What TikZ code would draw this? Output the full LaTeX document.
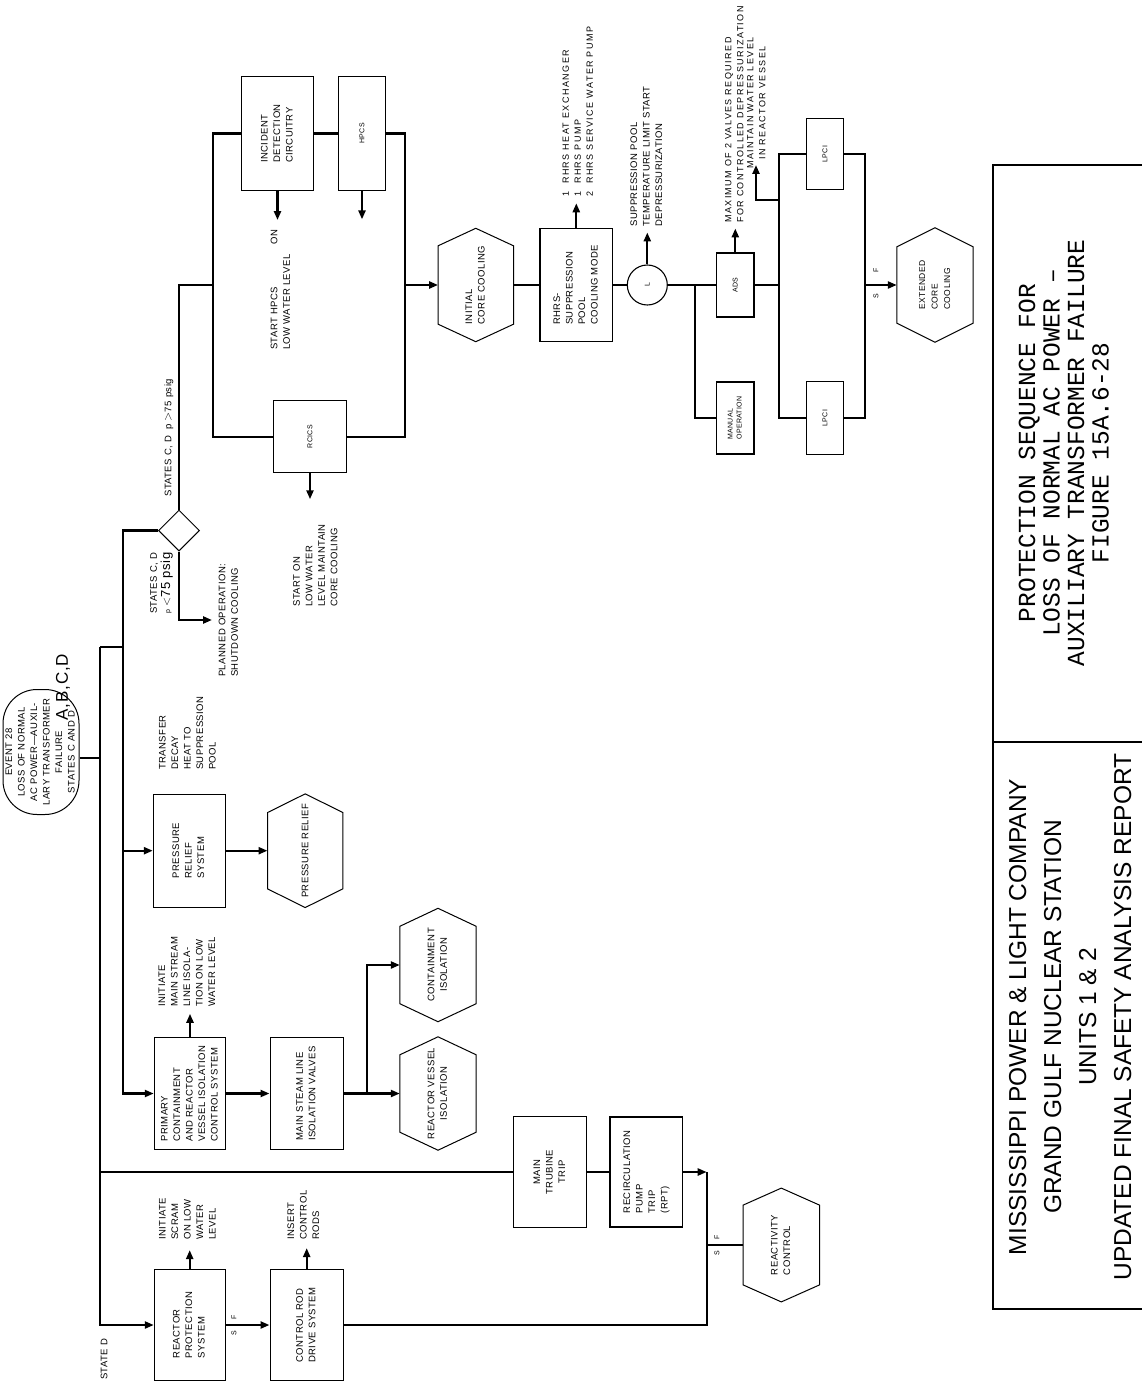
\documentclass[tikz,border=0pt]{standalone}
\usepackage{fontspec}
\setmainfont{Liberation Sans}[LetterSpace=5]
\newfontfamily\monofam{Liberation Mono}
\newfontfamily\titlefam{Liberation Sans}
\newfontfamily\widefam{Liberation Sans}[LetterSpace=16]
\usepackage{graphicx}
\usetikzlibrary{arrows.meta,shapes.geometric}
\newcommand\RotC[1]{\rotatebox{90}{\begin{tabular}{@{}c@{}}#1\end{tabular}}}
\newcommand\RotL[1]{\rotatebox{90}{\begin{tabular}{@{}l@{}}#1\end{tabular}}}
\newcommand\hexo[2]{\draw[hexline] (#1.north) -- ([yshift=-#2pt]#1.north west) -- ([yshift=#2pt]#1.south west) -- (#1.south) -- ([yshift=#2pt]#1.south east) -- ([yshift=-#2pt]#1.north east) -- cycle;}
\tikzset{
 lbl/.style={font=\fontsize{9.5}{12.5}\selectfont, inner sep=0pt},
 sm/.style={font=\fontsize{7}{9}\selectfont, inner sep=0pt},
 widelbl/.style={font=\widefam\fontsize{9}{12}\selectfont, inner sep=0pt},
 box/.style={draw, line width=1.1pt, inner sep=0pt, lbl},
 hexn/.style={inner sep=0pt, lbl},
 hexline/.style={line width=1pt},
 flow/.style={line width=2.3pt},
 arr/.style={line width=2.3pt, -{Triangle[length=9pt,width=7pt]}},
}
\begin{document}
\begin{tikzpicture}[x=1pt,y=-1pt]
\fill[white] (0,0) rectangle (1142,1383);
\useasboundingbox (0,0) rectangle (1142,1383);

% ---------- event ----------
\node[box, rounded corners=34pt, line width=1pt, minimum width=76pt, minimum height=125pt] (ev) at (41,752)
 {\RotC{EVENT 28\\LOSS OF NORMAL\\AC POWER—AUXIL-\\LARY TRANSFORMER\\FAILURE\\STATES C AND D}};
\node[inner sep=0pt, font=\fontsize{17}{17}\selectfont] (abcd) at (63,687) {\rotatebox{90}{A,B,C,D}};

\coordinate (a1) at (100,647);
\coordinate (a2) at (122.7,647);
\coordinate (tA) at (100,758);

% ---------- diamond and HPCS/RCICS loop ----------
\node[draw, diamond, aspect=1, minimum width=41pt, minimum height=41pt, inner sep=0pt, line width=1pt] (dia) at (179,530.5) {};
\coordinate (hj) at (179,285);
\coordinate (jl) at (213,285);
\coordinate (jr) at (405,285);
\coordinate (pl) at (212,620);

\node[box, minimum width=71.6pt, minimum height=114pt] (idc) at (277.5,133.5) {\RotL{INCIDENT\\DETECTION\\CIRCUITRY}};
\node[box, sm, minimum width=47.4pt, minimum height=114.7pt] (hpcs) at (362,133.5) {\rotatebox{90}{HPCS}};
\node[box, sm, minimum width=73.4pt, minimum height=72pt] (rcics) at (310,436.7) {\rotatebox{90}{RCICS}};

\node[hexn, minimum width=75pt, minimum height=113pt] (icc) at (475.8,285) {\RotL{INITIAL\\CORE COOLING}};
\hexo{icc}{17.5}
\node[box, minimum width=72.7pt, minimum height=112.4pt] (rhrs) at (576.3,285) {\RotL{RHRS-\\SUPPRESSION\\POOL\\COOLING MODE}};
\node[draw, circle, line width=1.1pt, minimum size=40pt, inner sep=0pt, sm] (cl) at (647.3,285) {\rotatebox{90}{L}};
\node[box, sm, minimum width=37.3pt, minimum height=64pt] (ads) at (735.3,285) {\rotatebox{90}{ADS}};
\node[box, sm, minimum width=37.3pt, minimum height=72pt] (man) at (735.3,418) {\RotL{MANUAL\\OPERATION}};
\node[box, sm, minimum width=36.6pt, minimum height=71pt] (lpt) at (825,154) {\rotatebox{90}{LPCI}};
\node[box, sm, minimum width=36.6pt, minimum height=73pt] (lpb) at (825,418) {\rotatebox{90}{LPCI}};
\node[hexn, font=\fontsize{8.5}{12.5}\selectfont, minimum width=76pt, minimum height=114pt] (ecc) at (935,285) {\RotL{EXTENDED\\CORE\\COOLING}};
\hexo{ecc}{19}
\coordinate (jm) at (695,285);
\coordinate (jl2) at (779.3,285);
\coordinate (jr2) at (865,285);
\coordinate (jb) at (779.3,200);
\coordinate (tipb) at (756,165);

% ---------- left column ----------
\node[box, minimum width=71.7pt, minimum height=113.3pt] (prs) at (189.2,850.7) {\RotL{PRESSURE\\RELIEF\\SYSTEM}};
\node[hexn, minimum width=75pt, minimum height=113.3pt] (prh) at (305.2,850.7) {\rotatebox{90}{PRESSURE RELIEF}};
\hexo{prh}{18.7}
\node[box, minimum width=71.4pt, minimum height=112.4pt] (pcis) at (190,1093.5) {\RotL{PRIMARY\\CONTAINMENT\\AND REACTOR\\VESSEL ISOLATION\\CONTROL SYSTEM}};
\node[box, minimum width=73.3pt, minimum height=112.7pt] (msiv) at (306.7,1093.5) {\RotL{MAIN STEAM LINE\\ISOLATION VALVES}};
\node[hexn, minimum width=76pt, minimum height=113pt] (ci) at (438,965) {\RotC{CONTAINMENT\\ISOLATION}};
\hexo{ci}{18}
\node[hexn, minimum width=76pt, minimum height=113pt] (rvi) at (438,1093.5) {\RotC{REACTOR VESSEL\\ISOLATION}};
\hexo{rvi}{18}
\coordinate (jv) at (366.7,1093.5);

\node[box, minimum width=73.4pt, minimum height=111.7pt] (mtt) at (550,1172) {\RotC{MAIN\\TRUBINE\\TRIP}};
\node[box, minimum width=72.7pt, minimum height=110pt] (rec) at (646.3,1172) {\RotL{RECIRCULATION\\PUMP\\TRIP\\(RPT)}};
\node[hexn, minimum width=76pt, minimum height=113.4pt] (rac) at (781.3,1245) {\RotL{REACTIVITY\\CONTROL}};
\hexo{rac}{17}
\node[box, minimum width=70.7pt, minimum height=110.7pt] (rps) at (189.7,1325) {\RotL{REACTOR\\PROTECTION\\SYSTEM}};
\node[box, minimum width=73.3pt, minimum height=110.7pt] (crd) at (306.7,1325) {\RotL{CONTROL ROD\\DRIVE SYSTEM}};
\coordinate (jtop) at (706.7,1172);
\coordinate (jx) at (706.7,1245);

% ---------- connectors ----------
\draw[flow] (ev.east |- tA) -- (tA);
\draw[flow] (dia.west) -| (a2) -- (a1);
\draw[arr] (a1) |- (rps.west);
\draw[arr] (a2) |- (pcis.west);
\draw[arr] (a2 |- prs.west) -- (prs.west);
\draw[arr] (prs.east) -- (prh.west);
\draw[flow] (a1 |- mtt.west) -- (mtt.west);
\draw[flow] (dia.north) -- (hj) -- (jl);
\draw[arr] (dia.south) |- (pl);
\draw[flow] (idc.west) -| (jl) |- (rcics.west);
\draw[flow] (idc.east) -- (hpcs.west);
\draw[flow] (hpcs.east) -| (jr) |- (rcics.east);
\draw[arr] (idc.south) -- ++(0,29);
\draw[arr] (hpcs.south) -- ++(0,28);
\draw[arr] (rcics.south) -- ++(0,26);
\draw[arr] (jr) -- (icc.west);
\draw[flow] (icc.east) -- (rhrs.west);
\draw[arr] (rhrs.north) -- ++(0,-25);
\draw[flow] (rhrs.east) -- (cl.west);
\draw[arr] (cl.north) -- ++(0,-32);
\draw[flow] (cl.east) -- (ads.west);
\draw[flow] (jm) |- (man.west);
\draw[arr] (ads.north) -- ++(0,-24);
\draw[flow] (ads.east) -- (jl2);
\draw[flow] (lpt.west) -| (jl2) |- (lpb.west);
\draw[flow] (lpt.east) -| (jr2) |- (lpb.east);
\draw[arr] (jb) -| (tipb);
\draw[arr] (jr2) -- (ecc.west);
\draw[arr] (pcis.north) -- ++(0,-23);
\draw[arr] (pcis.east) -- (msiv.west);
\draw[flow] (msiv.east) -- (jv);
\draw[arr] (jv) -- (rvi.west);
\draw[arr] (jv) |- (ci.west);
\draw[arr] (rps.north) -- ++(0,-19);
\draw[arr] (rps.east) -- (crd.west);
\draw[arr] (crd.north) -- ++(0,-21);
\draw[flow] (mtt.east) -- (rec.west);
\draw[arr] (rec.east) -- (jtop);
\draw[flow] (crd.east) -| (jtop);
\draw[flow] (jx) -- (rac.west);

% ---------- S / F marks ----------
\node[sm] (sf1s) at (234,1333) {\rotatebox{90}{S}};
\node[sm] (sf1f) at (234,1317) {\rotatebox{90}{F}};
\node[sm] (sf2s) at (717,1253) {\rotatebox{90}{S}};
\node[sm] (sf2f) at (717,1237) {\rotatebox{90}{F}};
\node[sm] (sf3s) at (876,296) {\rotatebox{90}{S}};
\node[sm] (sf3f) at (876,270) {\rotatebox{90}{F}};

% ---------- free labels ----------
\node[lbl, anchor=south] (l1) at (188,770) {\RotL{TRANSFER\\DECAY\\HEAT TO\\SUPPRESSION\\POOL}};
\node[lbl, anchor=south] (l2) at (187.5,1007) {\RotL{INITIATE\\MAIN STREAM\\LINE ISOLA-\\TION ON LOW\\WATER LEVEL}};
\node[lbl, anchor=south] (l3) at (188,1240) {\RotL{INITIATE\\SCRAM\\ON LOW\\WATER\\LEVEL}};
\node[lbl, anchor=south] (l4) at (304,1240) {\RotL{INSERT\\CONTROL\\RODS}};
\node[lbl, anchor=south] (l5) at (104,1380) {\rotatebox{90}{STATE D}};
\node[lbl, anchor=south] (l6) at (229,677) {\RotL{PLANNED OPERATION:\\SHUTDOWN COOLING}};
\node[lbl, anchor=south] (l7) at (161,614) {\RotL{STATES C, D\\{\fontsize{7}{8}\selectfont p}\ {\fontsize{13}{14}\selectfont $<$75 psig}}};
\node[lbl, anchor=south] (l8) at (169,497) {\rotatebox{90}{STATES C, D\ \ p\ {\fontsize{13}{13}\selectfont $>$}75 psig}};
\node[lbl, anchor=south] (l9) at (316,607) {\RotL{START ON\\LOW WATER\\LEVEL MAINTAIN\\CORE COOLING}};
\node[lbl, anchor=south] (l10) at (281,350) {\RotL{START HPCS\hspace{42pt}ON\\LOW WATER LEVEL}};
\node[widelbl, anchor=south] (l11) at (578.5,197) {\RotL{1\ \ RHRS HEAT EXCHANGER\\1\ \ RHRS PUMP\\2\ \ RHRS SERVICE WATER PUMP}};
\node[lbl, anchor=south] (l12) at (647,227) {\RotL{SUPPRESSION POOL\\TEMPERATURE LIMIT START\\DEPRESSURIZATION}};
\node[widelbl, anchor=south] (l13) at (735,223) {\RotL{MAXIMUM OF 2 VALVES REQUIRED\\FOR CONTROLLED DEPRESSURIZATION}};
\node[widelbl] (l14) at (757,103) {\RotC{MAINTAIN WATER LEVEL\\IN REACTOR VESSEL}};

% ---------- title block ----------
\draw[line width=1.2pt] (1142,165) -- (993,165) -- (993,1309) -- (1142,1309);
\draw[line width=1.2pt] (993,742) -- (1142,742);
\node[inner sep=0pt, font=\monofam\fontsize{24.5}{24.5}\selectfont] (t1) at (1067,453)
 {\RotC{PROTECTION SEQUENCE FOR\\LOSS OF NORMAL AC POWER –\\AUXILIARY TRANSFORMER FAILURE\\FIGURE 15A.6-28}};
\node[inner sep=0pt, font=\titlefam\fontsize{24.5}{35}\selectfont] (t2) at (1071.5,1017)
 {\RotC{MISSISSIPPI POWER \& LIGHT COMPANY\\GRAND GULF NUCLEAR STATION\\UNITS 1 \& 2\\UPDATED FINAL SAFETY ANALYSIS REPORT}};
\end{tikzpicture}
\end{document}
